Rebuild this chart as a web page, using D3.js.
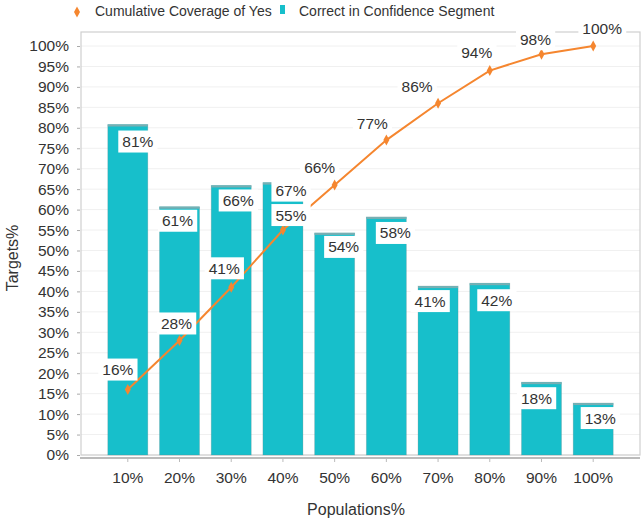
<!DOCTYPE html>
<html>
<head>
<meta charset="utf-8">
<script src="https://cdn.jsdelivr.net/npm/d3@7"></script>
<style>
  html, body { margin: 0; padding: 0; background: #fff; }
  svg { display: block; font-family: "Liberation Sans", Arial, sans-serif; }
</style>
</head>
<body>
<svg id="chart" width="644" height="521"></svg>
<script>
// ---- data ----
const categories = ["10%", "20%", "30%", "40%", "50%", "60%", "70%", "80%", "90%", "100%"];
const correctValues = [80.8, 60.7, 65.9, 66.6, 54.3, 58.2, 41.3, 42.0, 17.8, 12.7];
const cumulativeValues = [16, 28, 41, 55, 66, 77, 86, 94, 98, 100];
const yTickValues = d3.range(0, 101, 5);
const seriesNames = ["Cumulative Coverage of Yes", "Correct in Confidence Segment"];

// ---- label nudges (layout only) ----
const barLabelDx = [10, -2, 7, 8, 9, 9, -8, 7, -5, 7];
const barLabelDy = [17, 14, 15, 8, 14, 16, 15, 17, 16, 15];
const lineLabelDx = [-10, -3, -7, 8, -15, -14, -21, -13, -6, 9];
const lineLabelDy = [-20, -17, -19, -15, -18, -17, -17, -18, -15, -18];

const barColor = "#17bfcb";
const lineColor = "#f5862f";
const textColor = "#333";
const fs = "15.5px";

const svg = d3.select("#chart");
const plot = { left: 81, right: 640, top: 32, bottom: 455 };

const x = d3.scaleBand().domain(categories).range([plot.left, plot.right])
  .paddingInner(0.226).paddingOuter(0.518);
const y = d3.scaleLinear().domain([0, 100]).range([455, 46]);

// grid lines
svg.append("g").selectAll("line").data(yTickValues).join("line")
  .attr("x1", plot.left).attr("x2", plot.right)
  .attr("y1", d => y(d)).attr("y2", d => y(d))
  .attr("stroke", "#f0f0f0").attr("stroke-width", 1);

// frame
svg.append("rect")
  .attr("x", plot.left).attr("y", plot.top)
  .attr("width", plot.right - plot.left).attr("height", plot.bottom - plot.top)
  .attr("fill", "none").attr("stroke", "#cfcfcf").attr("stroke-width", 1.2);

// y axis
const yAxis = d3.axisLeft(y).tickValues(yTickValues).tickFormat(d => d + "%").tickSize(3).tickPadding(8);
const gy = svg.append("g").attr("transform", `translate(${plot.left - 1},0)`).call(yAxis);
gy.select(".domain").remove();
gy.selectAll(".tick line").attr("stroke", "#aaa");
gy.selectAll(".tick text").attr("fill", textColor).style("font-size", fs)
  .style("font-family", "Liberation Sans, Arial, sans-serif");

// bars
const bars = svg.append("g");
bars.selectAll("rect.bar").data(correctValues).join("rect")
  .attr("class", "bar")
  .attr("x", (d, i) => x(categories[i]))
  .attr("y", d => y(d))
  .attr("width", x.bandwidth())
  .attr("height", d => y(0) - y(d))
  .attr("fill", barColor)
  .attr("stroke", "rgba(110,130,130,0.3)")
  .attr("stroke-width", 0.8);
bars.selectAll("rect.top").data(correctValues).join("rect")
  .attr("class", "top")
  .attr("x", (d, i) => x(categories[i]))
  .attr("y", d => y(d))
  .attr("width", x.bandwidth())
  .attr("height", 2)
  .attr("fill", "#78afb3");

// x axis
const xAxis = d3.axisBottom(x).tickSize(4).tickPadding(10);
const gx = svg.append("g").attr("transform", `translate(0,458)`).call(xAxis);
gx.select(".domain").attr("d", `M${plot.left - 1},0H${plot.right}`).attr("stroke", "#bbb").attr("stroke-width", 2);
gx.selectAll(".tick line").attr("stroke", "#bbb");
gx.selectAll(".tick text").attr("fill", textColor).style("font-size", fs)
  .style("font-family", "Liberation Sans, Arial, sans-serif");

// line
const cx = i => x(categories[i]) + x.bandwidth() / 2;
const line = d3.line().x((d, i) => cx(i)).y(d => y(d));
svg.append("path").datum(cumulativeValues)
  .attr("d", line).attr("fill", "none")
  .attr("stroke", lineColor).attr("stroke-width", 2);
const diamond = "M0,-5.5L3,0L0,5.5L-3,0Z";
svg.append("g").selectAll("path").data(cumulativeValues).join("path")
  .attr("d", diamond)
  .attr("transform", (d, i) => `translate(${cx(i)},${y(d)})`)
  .attr("fill", lineColor);

// labels with white boxes
function boxLabel(g, text, cxp, cyp) {
  const t = g.append("text").attr("x", cxp).attr("y", cyp + 5.5)
    .attr("text-anchor", "middle").attr("fill", textColor)
    .style("font-size", fs).text(text);
  const bb = t.node().getBBox();
  g.insert("rect", "text")
    .attr("x", bb.x - 4).attr("y", cyp - 11)
    .attr("width", bb.width + 8).attr("height", 22)
    .attr("fill", "#fff");
  t.raise();
}
const labels = svg.append("g");
correctValues.forEach((v, i) => {
  const g = labels.append("g");
  boxLabel(g, Math.round(v) + "%", cx(i) + barLabelDx[i], y(v) + barLabelDy[i]);
});
cumulativeValues.forEach((v, i) => {
  const g = labels.append("g");
  boxLabel(g, Math.round(v) + "%", cx(i) + lineLabelDx[i], y(v) + lineLabelDy[i]);
});

// axis titles
svg.append("text").attr("transform", "translate(18,258) rotate(-90)")
  .attr("text-anchor", "middle").attr("fill", textColor)
  .style("font-size", "16px").text("Targets%");
svg.append("text").attr("x", 356).attr("y", 515)
  .attr("text-anchor", "middle").attr("fill", textColor)
  .style("font-size", "16px").text("Populations%");

// legend
const legend = svg.append("g");
legend.append("path").attr("d", diamond).attr("transform", "translate(77,12)").attr("fill", lineColor);
legend.append("text").attr("x", 95).attr("y", 16).attr("fill", textColor)
  .style("font-size", "14px").text(seriesNames[0]);
legend.append("rect").attr("x", 280).attr("y", 5).attr("width", 5).attr("height", 9).attr("fill", barColor);
legend.append("text").attr("x", 299).attr("y", 16).attr("fill", textColor)
  .style("font-size", "14px").text(seriesNames[1]);
</script>
</body>
</html>
